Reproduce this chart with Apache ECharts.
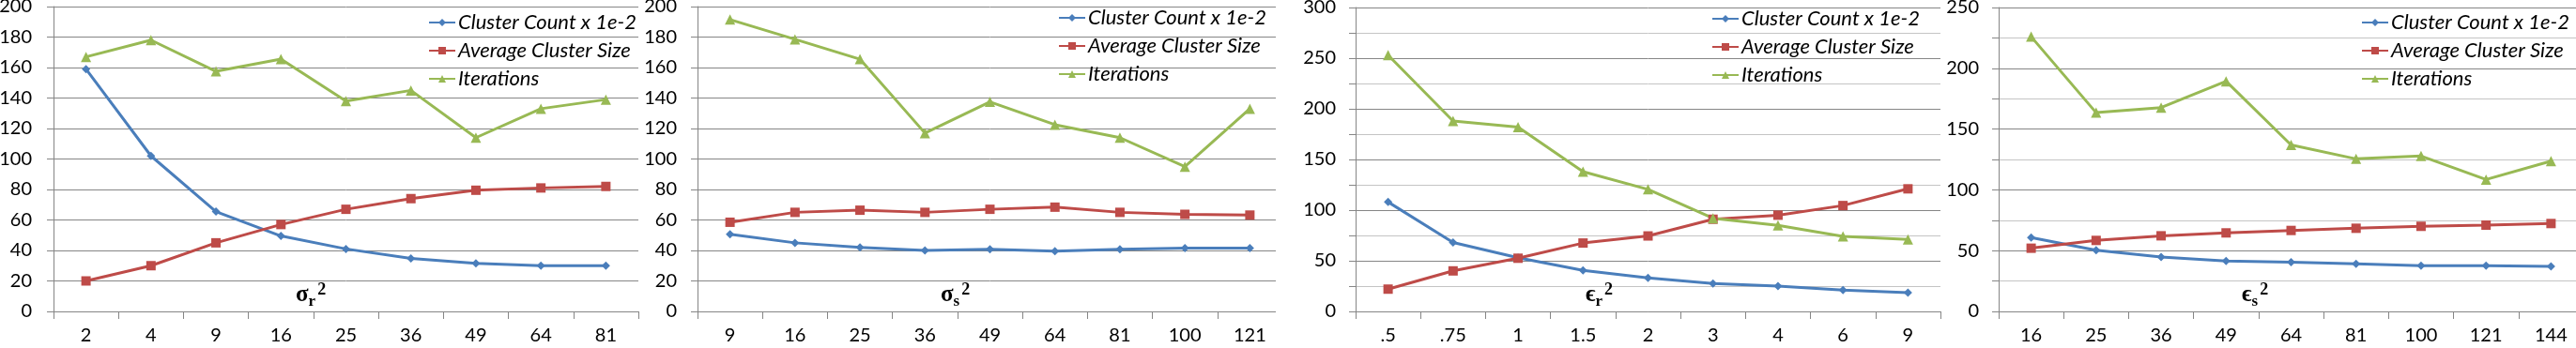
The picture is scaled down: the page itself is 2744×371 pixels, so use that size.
<!DOCTYPE html>
<html>
<head>
<meta charset="UTF-8">
<title>Cluster parameter sweeps</title>
<script src="https://cdn.jsdelivr.net/npm/echarts@6/dist/echarts.min.js"></script>
<style>
  body { margin: 0; background: #fff; }
  #main { width: 2744px; height: 371px; }
</style>
</head>
<body>
<div id="main"></div>
<script>
const seriesNames = ['Cluster Count x 1e-2', 'Average Cluster Size', 'Iterations'];

// sigma_r^2
const sigmaRCats = ['2', '4', '9', '16', '25', '36', '49', '64', '81'];
const sigmaRCount = [159, 102, 65.5, 49.5, 41, 34.8, 31.5, 30, 30];
const sigmaRSize = [20, 30, 45, 57, 67, 74, 79.5, 81, 82];
const sigmaRIter = [167, 178, 157.5, 165.5, 138, 145, 114, 133, 139];

// sigma_s^2
const sigmaSCats = ['9', '16', '25', '36', '49', '64', '81', '100', '121'];
const sigmaSCount = [50.6, 45, 42, 40, 40.7, 39.5, 40.7, 41.5, 41.5];
const sigmaSSize = [58.5, 65, 66.4, 65, 67, 68.4, 65, 63.7, 63.2];
const sigmaSIter = [191.5, 178.5, 165.5, 117, 137.5, 122.5, 114, 95, 133];

// epsilon_r^2
const epsRCats = ['.5', '.75', '1', '1.5', '2', '3', '4', '6', '9'];
const epsRCount = [108, 68, 53, 40.5, 33, 27.5, 25, 21, 18.5];
const epsRSize = [22, 40, 52.5, 67.5, 74.5, 91, 95, 104.5, 121];
const epsRIter = [253, 188, 182, 138, 120.5, 92, 85, 74, 71];

// epsilon_s^2
const epsSCats = ['16', '25', '36', '49', '64', '81', '100', '121', '144'];
const epsSCount = [60.7, 50.3, 44.8, 41.4, 40.6, 39.1, 37.6, 37.6, 37];
const epsSSize = [52, 58.4, 62.2, 64.6, 66.6, 68.4, 70, 71, 72.3];
const epsSIter = [226, 163.5, 167.7, 189.3, 137, 125.5, 127.8, 108.5, 123.7];

const panels = [
  { cats: sigmaRCats, data: [sigmaRCount, sigmaRSize, sigmaRIter], max: 200, step: 20, minor: false,
    sym: 'σ', sub: 'r', left: 57, top: 7, height: 325, labelMargin: 23, legend: [456, 13], title: 315 },
  { cats: sigmaSCats, data: [sigmaSCount, sigmaSSize, sigmaSIter], max: 200, step: 20, minor: false,
    sym: 'σ', sub: 's', left: 743, top: 7, height: 325, labelMargin: 22, legend: [1127, 8], title: 1002 },
  { cats: epsRCats, data: [epsRCount, epsRSize, epsRIter], max: 300, step: 50, minor: true,
    sym: 'ϵ', sub: 'r', left: 1444, top: 8, height: 324, labelMargin: 21, legend: [1823, 9], title: 1689 },
  { cats: epsSCats, data: [epsSCount, epsSSize, epsSIter], max: 250, step: 50, minor: true,
    sym: 'ϵ', sub: 's', left: 2129, top: 8, height: 324, labelMargin: 21, legend: [2515, 13], title: 2388 }
];

const lineColors = ['#4A7EBB', '#BE4B48', '#98B954'];
const symbols = ['diamond', 'rect', 'triangle'];
const symbolSizes = [9, 10, 11];
const axisGray = '#868686';
const font = 'Lato, "Open Sans", sans-serif';

const grid = [], xAxis = [], yAxis = [], series = [], legend = [], title = [];

panels.forEach((p, i) => {
  grid.push({ left: p.left, top: p.top, width: 623, height: p.height, containLabel: false, outerBoundsMode: 'none' });
  xAxis.push({
    type: 'category', gridIndex: i, data: p.cats, boundaryGap: true,
    axisLine: { lineStyle: { color: axisGray, width: 1 } },
    axisTick: { show: true, length: 8, interval: 0, lineStyle: { color: axisGray } },
    axisLabel: { interval: 0, color: '#000', fontFamily: font, fontSize: 20, margin: 16 },
    splitLine: { show: false }
  });
  yAxis.push({
    type: 'value', gridIndex: i, min: 0, max: p.max, interval: p.step,
    axisLine: { show: true, lineStyle: { color: axisGray } },
    axisTick: { show: true, length: 7, lineStyle: { color: axisGray } },
    minorTick: { show: p.minor, splitNumber: 2, length: 7, lineStyle: { color: axisGray } },
    axisLabel: { color: '#000', fontFamily: font, fontSize: 20, margin: p.labelMargin },
    splitLine: { show: true, lineStyle: { color: axisGray, width: 1 } },
    minorSplitLine: { show: p.minor, lineStyle: { color: '#c4c4c4', width: 1 } }
  });
  p.data.forEach((vals, k) => {
    series.push({
      name: seriesNames[k], type: 'line', xAxisIndex: i, yAxisIndex: i, data: vals,
      symbol: symbols[k], symbolSize: symbolSizes[k], showSymbol: true,
      lineStyle: { color: lineColors[k], width: 3 },
      itemStyle: { color: lineColors[k] },
      animation: false
    });
  });
  legend.push({
    data: seriesNames, orient: 'vertical', left: p.legend[0], top: p.legend[1],
    padding: 0, itemWidth: 28, itemHeight: 10, itemGap: 8, selectedMode: false,
    textStyle: { fontFamily: font, fontStyle: 'italic', fontSize: 22, color: '#000', padding: [0, 0, 0, -2] }
  });
  title.push({
    text: '{m|' + p.sym + '}{s|' + p.sub + '}{p|2}',
    left: p.title, top: 300, padding: 0,
    textStyle: {
      rich: {
        m: { fontFamily: '"Liberation Serif", "DejaVu Serif", serif', fontWeight: 'bold', fontSize: 25, lineHeight: 30, color: '#000' },
        s: { fontFamily: '"Liberation Serif", serif', fontWeight: 'bold', fontSize: 17, lineHeight: 17, verticalAlign: 'bottom', color: '#000' },
        p: { fontFamily: '"Liberation Serif", serif', fontWeight: 'bold', fontSize: 18, lineHeight: 18, verticalAlign: 'top', color: '#000', padding: [0, 0, 0, 2] }
      }
    }
  });
});

const chart = echarts.init(document.getElementById('main'));
chart.setOption({
  animation: false,
  title: title,
  legend: legend,
  grid: grid,
  xAxis: xAxis,
  yAxis: yAxis,
  series: series,
  // panel 2 is cropped a few px short of its last category boundary
  graphic: [{ type: 'rect', left: 1359, top: 0, shape: { width: 9, height: 350 }, style: { fill: '#fff' }, z: 100 }]
});
</script>
</body>
</html>
